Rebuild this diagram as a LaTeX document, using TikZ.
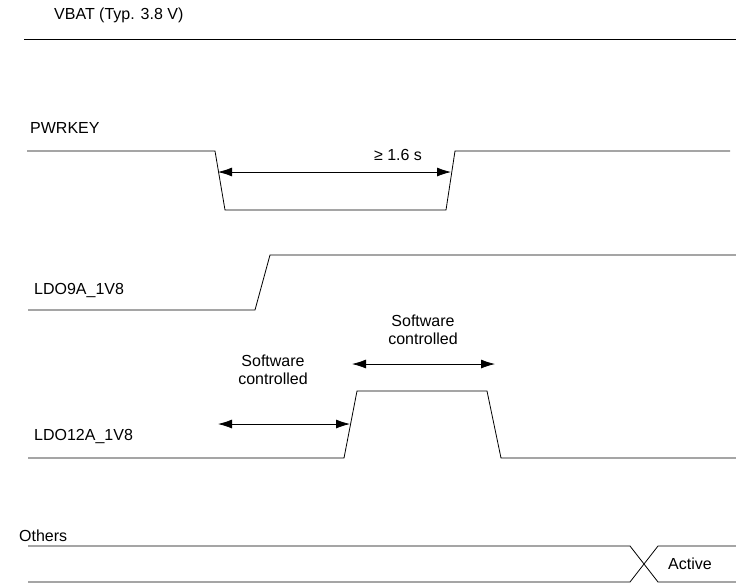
\documentclass[tikz,border=0pt]{standalone}
\usepackage{fontspec}
\setmainfont{Liberation Sans}
\usetikzlibrary{arrows.meta}
\tikzset{
  wave/.style={line width=0.8pt, line join=miter},
  span/.style={line width=0.8pt, {Latex[length=14pt,width=9pt]}-{Latex[length=14pt,width=9pt]}},
  lbl/.style={inner sep=0pt, font=\fontsize{16}{18}\selectfont},
}
\begin{document}
\begin{tikzpicture}[x=1pt,y=-1pt]
    \useasboundingbox (0,0) rectangle (736,584);

    % VBAT
    \node[lbl, anchor=west] (vbat) at (54,15) {VBAT (Typ. 3.8 V)};
    \draw[wave] (24,39) -- (736,39);

    % PWRKEY
    \node[lbl, anchor=west] (pwrkey) at (30,128) {PWRKEY};
    \draw[wave] (27,151) -- (215,151) -- (225,210) -- (446,210) -- (455,151) -- (730,151);
    \coordinate (pkA) at (218,172);
    \coordinate (pkB) at (451,172);
    \draw[span] (pkA) -- (pkB);
    \node[lbl] (pktime) at (398,155) {≥ 1.6 s};

    % LDO9A_1V8
    \node[lbl, anchor=west] (ldo9) at (34,290) {LDO9A\_1V8};
    \draw[wave] (28,310) -- (255,310) -- (270,255) -- (736,255);

    % LDO12A_1V8
    \node[lbl, anchor=west] (ldo12) at (34,436) {LDO12A\_1V8};
    \draw[wave] (28,458) -- (344,458) -- (357,391) -- (487,391) -- (501,458) -- (736,458);
    \coordinate (swA) at (218,424);
    \coordinate (swB) at (350,424);
    \draw[span] (swA) -- (swB);
    \node[lbl, align=center] (swtxt1) at (273,370) {Software\\controlled};
    \coordinate (swC) at (352,364);
    \coordinate (swD) at (495,364);
    \draw[span] (swC) -- (swD);
    \node[lbl, align=center] (swtxt2) at (423,330) {Software\\controlled};

    % Others
    \node[lbl, anchor=west] (others) at (19,536) {Others};
    \draw[wave] (28,546) -- (630,546) -- (658,582) -- (736,582);
    \draw[wave] (28,582) -- (630,582) -- (658,546) -- (736,546);
    \node[lbl] (active) at (690,564) {Active};
\end{tikzpicture}
\end{document}
